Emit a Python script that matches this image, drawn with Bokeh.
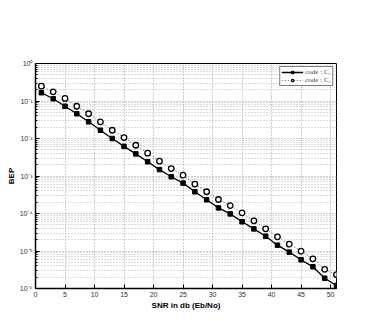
from bokeh.plotting import figure
from bokeh.models import (Range1d, FixedTicker, CustomJSTickFormatter,
                          Legend, LegendItem, ColumnDataSource)
from bokeh.embed import file_html
from bokeh.resources import INLINE

snr = [1, 3, 5, 7, 9, 11, 13, 15, 17, 19, 21, 23, 25, 27, 29, 31, 33, 35, 37, 39, 41, 43, 45, 47, 49, 51]
bep_c1 = [0.166, 0.115, 0.0724, 0.0457, 0.0279, 0.0166, 0.0100, 0.00617, 0.00389, 0.00240,
          0.00148, 0.000955, 0.000646, 0.000380, 0.000232, 0.000141, 9.77e-5, 6.03e-5, 3.89e-5,
          2.48e-5, 1.43e-5, 9.33e-6, 5.82e-6, 3.80e-6, 1.88e-6, 1.20e-6]
bep_c2 = [0.248, 0.176, 0.117, 0.0724, 0.0457, 0.0279, 0.0166, 0.0106, 0.00661, 0.00407,
          0.00248, 0.00158, 0.00105, 0.000610, 0.000380, 0.000236, 0.000163, 0.000104, 6.38e-5,
          3.91e-5, 2.39e-5, 1.52e-5, 9.89e-6, 6.19e-6, 3.25e-6, 2.33e-6]
x_ticks = [0, 5, 10, 15, 20, 25, 30, 35, 40, 45, 50]
y_ticks = [1e-6, 1e-5, 1e-4, 1e-3, 1e-2, 1e-1, 1]
label_c1 = "code : C₁"
label_c2 = "code : C₂"
x_label = "SNR in db (Eb/No)"
y_label = "BEP"

y_minor = [m * 10.0 ** e for e in range(-6, 0) for m in range(2, 10)]

p = figure(frame_width=301, frame_height=225, output_backend="svg", toolbar_location=None,
           y_axis_type="log", x_range=Range1d(0, 51), y_range=Range1d(1e-6, 1),
           min_border_left=35, min_border_top=63, min_border_right=14, min_border_bottom=20)
p.outline_line_color = "black"
p.outline_line_width = 1

fmt = CustomJSTickFormatter(code="""
const sup = {'-':'\u207b','0':'\u2070','1':'\u00b9','2':'\u00b2','3':'\u00b3','4':'\u2074','5':'\u2075','6':'\u2076','7':'\u2077','8':'\u2078','9':'\u2079'};
const e = Math.round(Math.log10(tick));
return '10' + String(e).split('').map(c => sup[c]).join('');
""")

xt = FixedTicker(ticks=x_ticks)
yt = FixedTicker(ticks=y_ticks, minor_ticks=y_minor)

ax_x = p.xaxis[0]
ax_y = p.yaxis[0]
ax_x.ticker = xt
ax_x.axis_label = x_label
ax_y.ticker = yt
ax_y.formatter = fmt
ax_y.axis_label = y_label

for ax in [ax_x, ax_y]:
    ax.major_tick_in = 4
    ax.major_tick_out = 0
    ax.minor_tick_in = 2
    ax.minor_tick_out = 0
    ax.axis_line_color = "black"
    ax.axis_line_width = 1.5
    ax.major_tick_line_color = "black"
    ax.minor_tick_line_color = "black"
    ax.major_label_text_font = "Liberation Sans"
    ax.major_label_text_font_size = "7px"
    ax.major_label_text_color = "#333333"
    ax.major_label_standoff = 3
    ax.axis_label_text_font = "Liberation Sans"
    ax.axis_label_text_font_size = "8px"
    ax.axis_label_text_font_style = "bold"
    ax.axis_label_text_color = "black"
    ax.axis_label_standoff = 1

p.xgrid.grid_line_color = "#a0a0a0"
p.xgrid.grid_line_dash = "1 2"
p.ygrid.grid_line_color = "#a0a0a0"
p.ygrid.grid_line_dash = "1 2"
p.ygrid.minor_grid_line_color = "#b8b8b8"
p.ygrid.minor_grid_line_dash = "1 2"

src = ColumnDataSource(dict(snr=snr, c1=bep_c1, c2=bep_c2))

l2 = p.line("snr", "c2", source=src, line_color="#666666", line_width=1, line_dash="1 2")
s2 = p.scatter("snr", "c2", source=src, marker="circle", size=5.5, fill_color="white",
               line_color="black", line_width=1.3)
l1 = p.line("snr", "c1", source=src, line_color="black", line_width=1.3)
s1 = p.scatter("snr", "c1", source=src, marker="square", size=4.5, fill_color="black",
               line_color="black")

legend = Legend(items=[LegendItem(label=label_c1, renderers=[l1, s1]),
                       LegendItem(label=label_c2, renderers=[l2, s2])],
                location="top_right")
legend.label_text_font = "Liberation Serif"
legend.label_text_font_size = "7px"
legend.label_height = 6
legend.glyph_height = 6
legend.glyph_width = 22
legend.label_standoff = 2
legend.spacing = 0
legend.padding = 1
legend.margin = 3
legend.border_line_color = "black"
legend.border_line_width = 1
legend.background_fill_alpha = 1
p.add_layout(legend)

open("out.html", "w").write(file_html(p, INLINE))
